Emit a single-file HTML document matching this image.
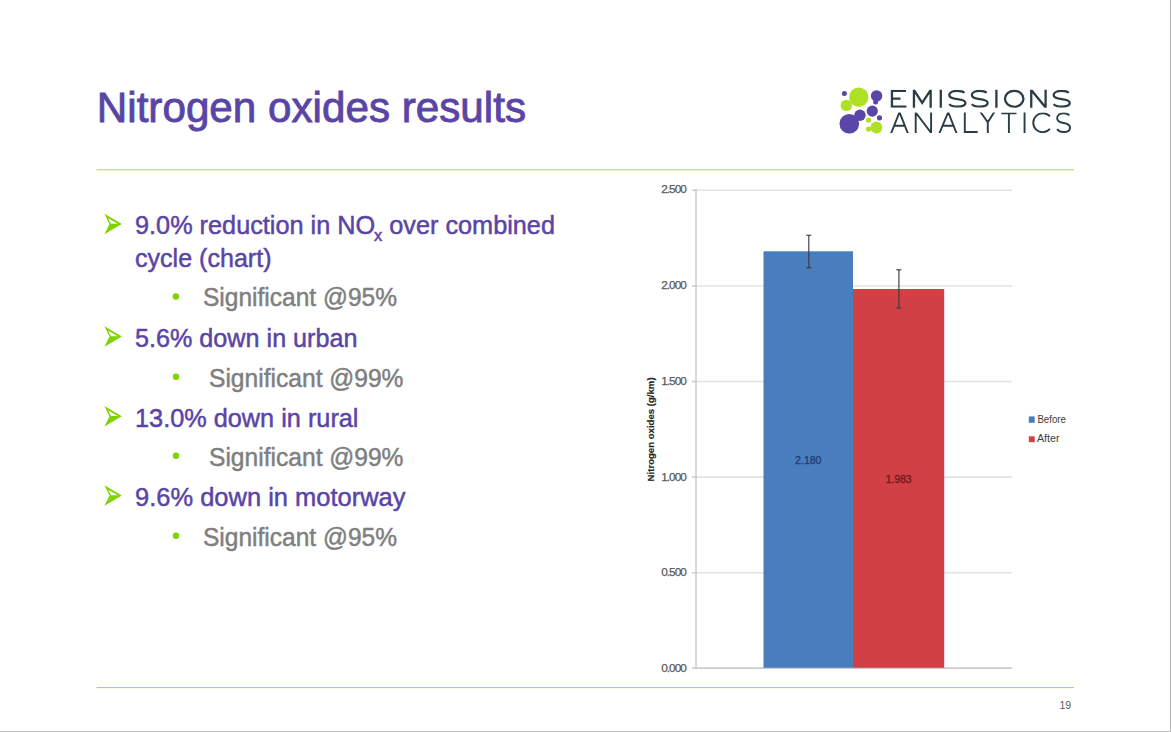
<!DOCTYPE html>
<html><head><meta charset="utf-8">
<style>
html,body{margin:0;padding:0;background:#fff;width:1171px;height:732px;overflow:hidden}
svg{display:block;font-family:"Liberation Sans",sans-serif}
</style></head>
<body>
<svg width="1171" height="732" viewBox="0 0 1171 732">
<rect x="0" y="0" width="1171" height="732" fill="#fff"/>
<!-- borders -->
<rect x="1170" y="0" width="1" height="732" fill="#b0b0b0"/>
<rect x="0" y="731" width="1171" height="1" fill="#bdbdbd"/>

<!-- title -->
<text x="96.8" y="122" font-size="43" fill="#5a45a6" stroke="#5a45a6" stroke-width="0.9" textLength="429.2" lengthAdjust="spacingAndGlyphs">Nitrogen oxides results</text>

<!-- green rules -->
<rect x="96.5" y="169" width="977.5" height="1.3" fill="#c6e56a"/>
<rect x="96.5" y="687" width="977.5" height="1.1" fill="#b2df35"/>

<!-- logo circles -->
<g id="logo">
<circle cx="858.8" cy="97.2" r="9.7" fill="#b0e026"/>
<circle cx="846.3" cy="105.4" r="5.7" fill="#b0e026"/>
<circle cx="844.4" cy="93.5" r="2.5" fill="#5946a6"/>
<circle cx="876.6" cy="95.9" r="5.7" fill="#5946a6"/>
<circle cx="875.6" cy="102.1" r="2.5" fill="#5946a6"/>
<circle cx="849.3" cy="123.8" r="9.8" fill="#5946a6"/>
<circle cx="860" cy="115.2" r="5.7" fill="#5946a6"/>
<circle cx="872.3" cy="111.1" r="5.6" fill="#5946a6"/>
<circle cx="879.5" cy="117.8" r="2.6" fill="#5946a6"/>
<circle cx="868.6" cy="120.1" r="2.6" fill="#b0e026"/>
<circle cx="876.4" cy="127.5" r="5.9" fill="#b0e026"/>
<circle cx="868.6" cy="129.1" r="2.6" fill="#b0e026"/>
</g>
<!--LOGOTEXT-->
<defs>
<clipPath id="r1"><rect x="880" y="89.8" width="200" height="17.9"/></clipPath>
<clipPath id="r2"><rect x="880" y="112.4" width="200" height="20.6"/></clipPath>
</defs>
<g fill="none" stroke="#2b3d44" stroke-linejoin="miter" stroke-miterlimit="10">
<path clip-path="url(#r1)" stroke-width="2.3" d="M906.1,90.95 L891.95,90.95 L891.95,106.55 L906.4,106.55 M891.95,98.65 L900.5,98.65 M913.95,110.7 L913.95,89.95 L922.2,102.8 L930.65,89.95 L930.65,110.7 M940.8,86.8 L940.8,110.7 M964.48,92.75 C962.86,91.32 960.27,90.85 957.35,90.85 C952.81,90.85 949.25,92.43 949.25,94.96 C949.25,97.96 953.3,98.59 957.35,99.07 C961.89,99.54 965.45,100.33 965.45,103.02 C965.45,105.39 961.89,106.65 957.35,106.65 C953.79,106.65 950.55,105.7 949.25,104.12 M986.7,92.75 C985.12,91.32 982.59,90.85 979.75,90.85 C975.33,90.85 971.85,92.43 971.85,94.96 C971.85,97.96 975.8,98.59 979.75,99.07 C984.17,99.54 987.65,100.33 987.65,103.02 C987.65,105.39 984.17,106.65 979.75,106.65 C976.27,106.65 973.11,105.7 971.85,104.12 M996.4,86.8 L996.4,110.7 M1004.95,98.8 A9.25,8.05 0 1 0 1023.45,98.8 A9.25,8.05 0 1 0 1004.95,98.8 Z M1031.25,110.7 L1031.25,89.95 L1045.6,107.55 L1045.6,86.8 M1068.78,92.75 C1067.17,91.32 1064.6,90.85 1061.7,90.85 C1057.19,90.85 1053.65,92.43 1053.65,94.96 C1053.65,97.96 1057.68,98.59 1061.7,99.07 C1066.21,99.54 1069.75,100.33 1069.75,103.02 C1069.75,105.39 1066.21,106.65 1061.7,106.65 C1058.16,106.65 1054.94,105.7 1053.65,104.12"/>
<path clip-path="url(#r2)" stroke-width="1.9" d="M890.05,136 L899.5,112.2 L908.95,136 M894.1,125.8 L904.9,125.8 M915.7,136 L915.7,112.55 L931.1,132.85 L931.1,109.4 M938.29,136 L948.2,112.2 L957.65,136 M942.54,125.8 L953.6,125.8 M964.8,109.4 L964.8,132.05 L977.7,132.05 M979.54,110.6 L987.8,122.3 L995.16,110.6 M987.8,122.3 L987.8,136 M1001.3,113.35 L1016.5,113.35 M1008.9,113.35 L1008.9,136 M1024.55,109.4 L1024.55,136 M1049.92,116.47 A9.5,9.5 0 1 0 1049.92,128.93 M1069.28,115.51 C1067.99,113.81 1065.92,113.25 1063.6,113.25 C1059.99,113.25 1057.15,115.13 1057.15,118.14 C1057.15,121.71 1060.38,122.46 1063.6,123.03 C1067.21,123.59 1070.05,124.53 1070.05,127.73 C1070.05,130.55 1067.21,132.05 1063.6,132.05 C1060.76,132.05 1058.18,130.92 1057.15,129.04"/>
</g>

<!--/LOGOTEXT-->

<!-- bullets -->
<g fill="#5a45a6" stroke="#5a45a6" stroke-width="0.5" font-size="26.2">
<text x="135" y="234" textLength="420" lengthAdjust="spacingAndGlyphs">9.0% reduction in NO<tspan font-size="17" dx="-1.2" dy="6.5">x</tspan><tspan dy="-6.5"> over combined</tspan></text>
<text x="135" y="267" textLength="136.5" lengthAdjust="spacingAndGlyphs">cycle (chart)</text>
<text x="135" y="347" textLength="222.5" lengthAdjust="spacingAndGlyphs">5.6% down in urban</text>
<text x="135" y="427" textLength="223.5" lengthAdjust="spacingAndGlyphs">13.0% down in rural</text>
<text x="135" y="506" textLength="270.5" lengthAdjust="spacingAndGlyphs">9.6% down in motorway</text>
</g>
<g fill="#7f7f7f" stroke="#7f7f7f" stroke-width="0.5" font-size="26.2">
<text x="203" y="306" textLength="194" lengthAdjust="spacingAndGlyphs">Significant @95%</text>
<text x="209" y="387" textLength="194.5" lengthAdjust="spacingAndGlyphs">Significant @99%</text>
<text x="209" y="466" textLength="194.5" lengthAdjust="spacingAndGlyphs">Significant @99%</text>
<text x="203" y="546" textLength="194" lengthAdjust="spacingAndGlyphs">Significant @95%</text>
</g>
<g fill="#7ed300" fill-rule="evenodd">
<path transform="translate(104.4,213.8)" d="M0,0 L17.4,10.25 L0,20.5 L5.1,10.3 Z M3.8,4.4 L13.3,9.9 L6.6,9.9 Z"/>
<path transform="translate(104.4,326.3)" d="M0,0 L17.4,10.25 L0,20.5 L5.1,10.3 Z M3.8,4.4 L13.3,9.9 L6.6,9.9 Z"/>
<path transform="translate(104.4,406.1)" d="M0,0 L17.4,10.25 L0,20.5 L5.1,10.3 Z M3.8,4.4 L13.3,9.9 L6.6,9.9 Z"/>
<path transform="translate(104.4,485.3)" d="M0,0 L17.4,10.25 L0,20.5 L5.1,10.3 Z M3.8,4.4 L13.3,9.9 L6.6,9.9 Z"/>
</g>
<g fill="#7ed400">
<circle cx="175.9" cy="296.5" r="3.2"/>
<circle cx="176" cy="376.7" r="3.2"/>
<circle cx="176" cy="455.8" r="3.2"/>
<circle cx="176" cy="535.8" r="3.2"/>
</g>

<!-- chart -->
<g id="chart">
<g stroke="#e2e2e2" stroke-width="1.6">
<line x1="697" y1="190.3" x2="1012" y2="190.3"/>
<line x1="697" y1="286.0" x2="1012" y2="286.0"/>
<line x1="697" y1="381.5" x2="1012" y2="381.5"/>
<line x1="697" y1="477.1" x2="1012" y2="477.1"/>
<line x1="697" y1="572.8" x2="1012" y2="572.8"/>
</g>
<line x1="696" y1="189.2" x2="696" y2="668.5" stroke="#d6d6d6" stroke-width="1.8"/>
<g stroke="#cbcbcb" stroke-width="1.6">
<line x1="692.1" y1="190.3" x2="697" y2="190.3"/>
<line x1="692.1" y1="286.0" x2="697" y2="286.0"/>
<line x1="692.1" y1="381.5" x2="697" y2="381.5"/>
<line x1="692.1" y1="477.1" x2="697" y2="477.1"/>
<line x1="692.1" y1="572.8" x2="697" y2="572.8"/>
</g>
<line x1="692.1" y1="668.1" x2="1012" y2="668.1" stroke="#cbcbcb" stroke-width="1.9"/>
<rect x="763.5" y="251.3" width="89.5" height="416.5" fill="#487ebe"/>
<rect x="853" y="289" width="91.2" height="378.8" fill="#d04045"/>
<g stroke="#3c3c3c" stroke-width="1.15">
<line x1="808.8" y1="235.2" x2="808.8" y2="267.7"/>
<line x1="806.3" y1="235.2" x2="811.3" y2="235.2"/>
<line x1="806.3" y1="267.7" x2="811.3" y2="267.7"/>
<line x1="898.9" y1="269.8" x2="898.9" y2="308"/>
<line x1="896.4" y1="269.8" x2="901.4" y2="269.8"/>
<line x1="896.4" y1="308" x2="901.4" y2="308"/>
</g>
<g font-size="11.8" fill="#595959" stroke="#595959" stroke-width="0.25" lengthAdjust="spacingAndGlyphs">
<text x="661.2" y="193" textLength="25.6">2.500</text>
<text x="661.2" y="289" textLength="25.6">2.000</text>
<text x="661.2" y="385" textLength="25.6">1.500</text>
<text x="661.2" y="481" textLength="25.6">1.000</text>
<text x="661.2" y="576" textLength="25.6">0.500</text>
<text x="661.2" y="672" textLength="25.6">0.000</text>
</g>
<text x="0" y="0" font-size="9.6" font-weight="bold" fill="#262626" stroke="#262626" stroke-width="0.15" transform="translate(654.2,481.4) rotate(-90)" textLength="104" lengthAdjust="spacingAndGlyphs">Nitrogen oxides (g/km)</text>
<text x="795.1" y="464" font-size="11" fill="#223a72" stroke="#223a72" stroke-width="0.3" textLength="26.4" lengthAdjust="spacingAndGlyphs">2.180</text>
<text x="885.8" y="483" font-size="11" fill="#6a181b" stroke="#6a181b" stroke-width="0.3" textLength="25.8" lengthAdjust="spacingAndGlyphs">1.983</text>
<!-- legend -->
<rect x="1028.8" y="416.4" width="5.9" height="6.4" fill="#497ebd"/>
<rect x="1028.8" y="436.3" width="5.9" height="5.9" fill="#d04045"/>
<text x="1037.4" y="422.8" font-size="10.2" fill="#404040" textLength="28.6" lengthAdjust="spacingAndGlyphs">Before</text>
<text x="1036.9" y="442.2" font-size="10.2" fill="#404040" textLength="22.6" lengthAdjust="spacingAndGlyphs">After</text>
</g>
<!-- page number -->
<text x="1059.5" y="709" font-size="10.5" fill="#595959">19</text>
</svg>
</body></html>
